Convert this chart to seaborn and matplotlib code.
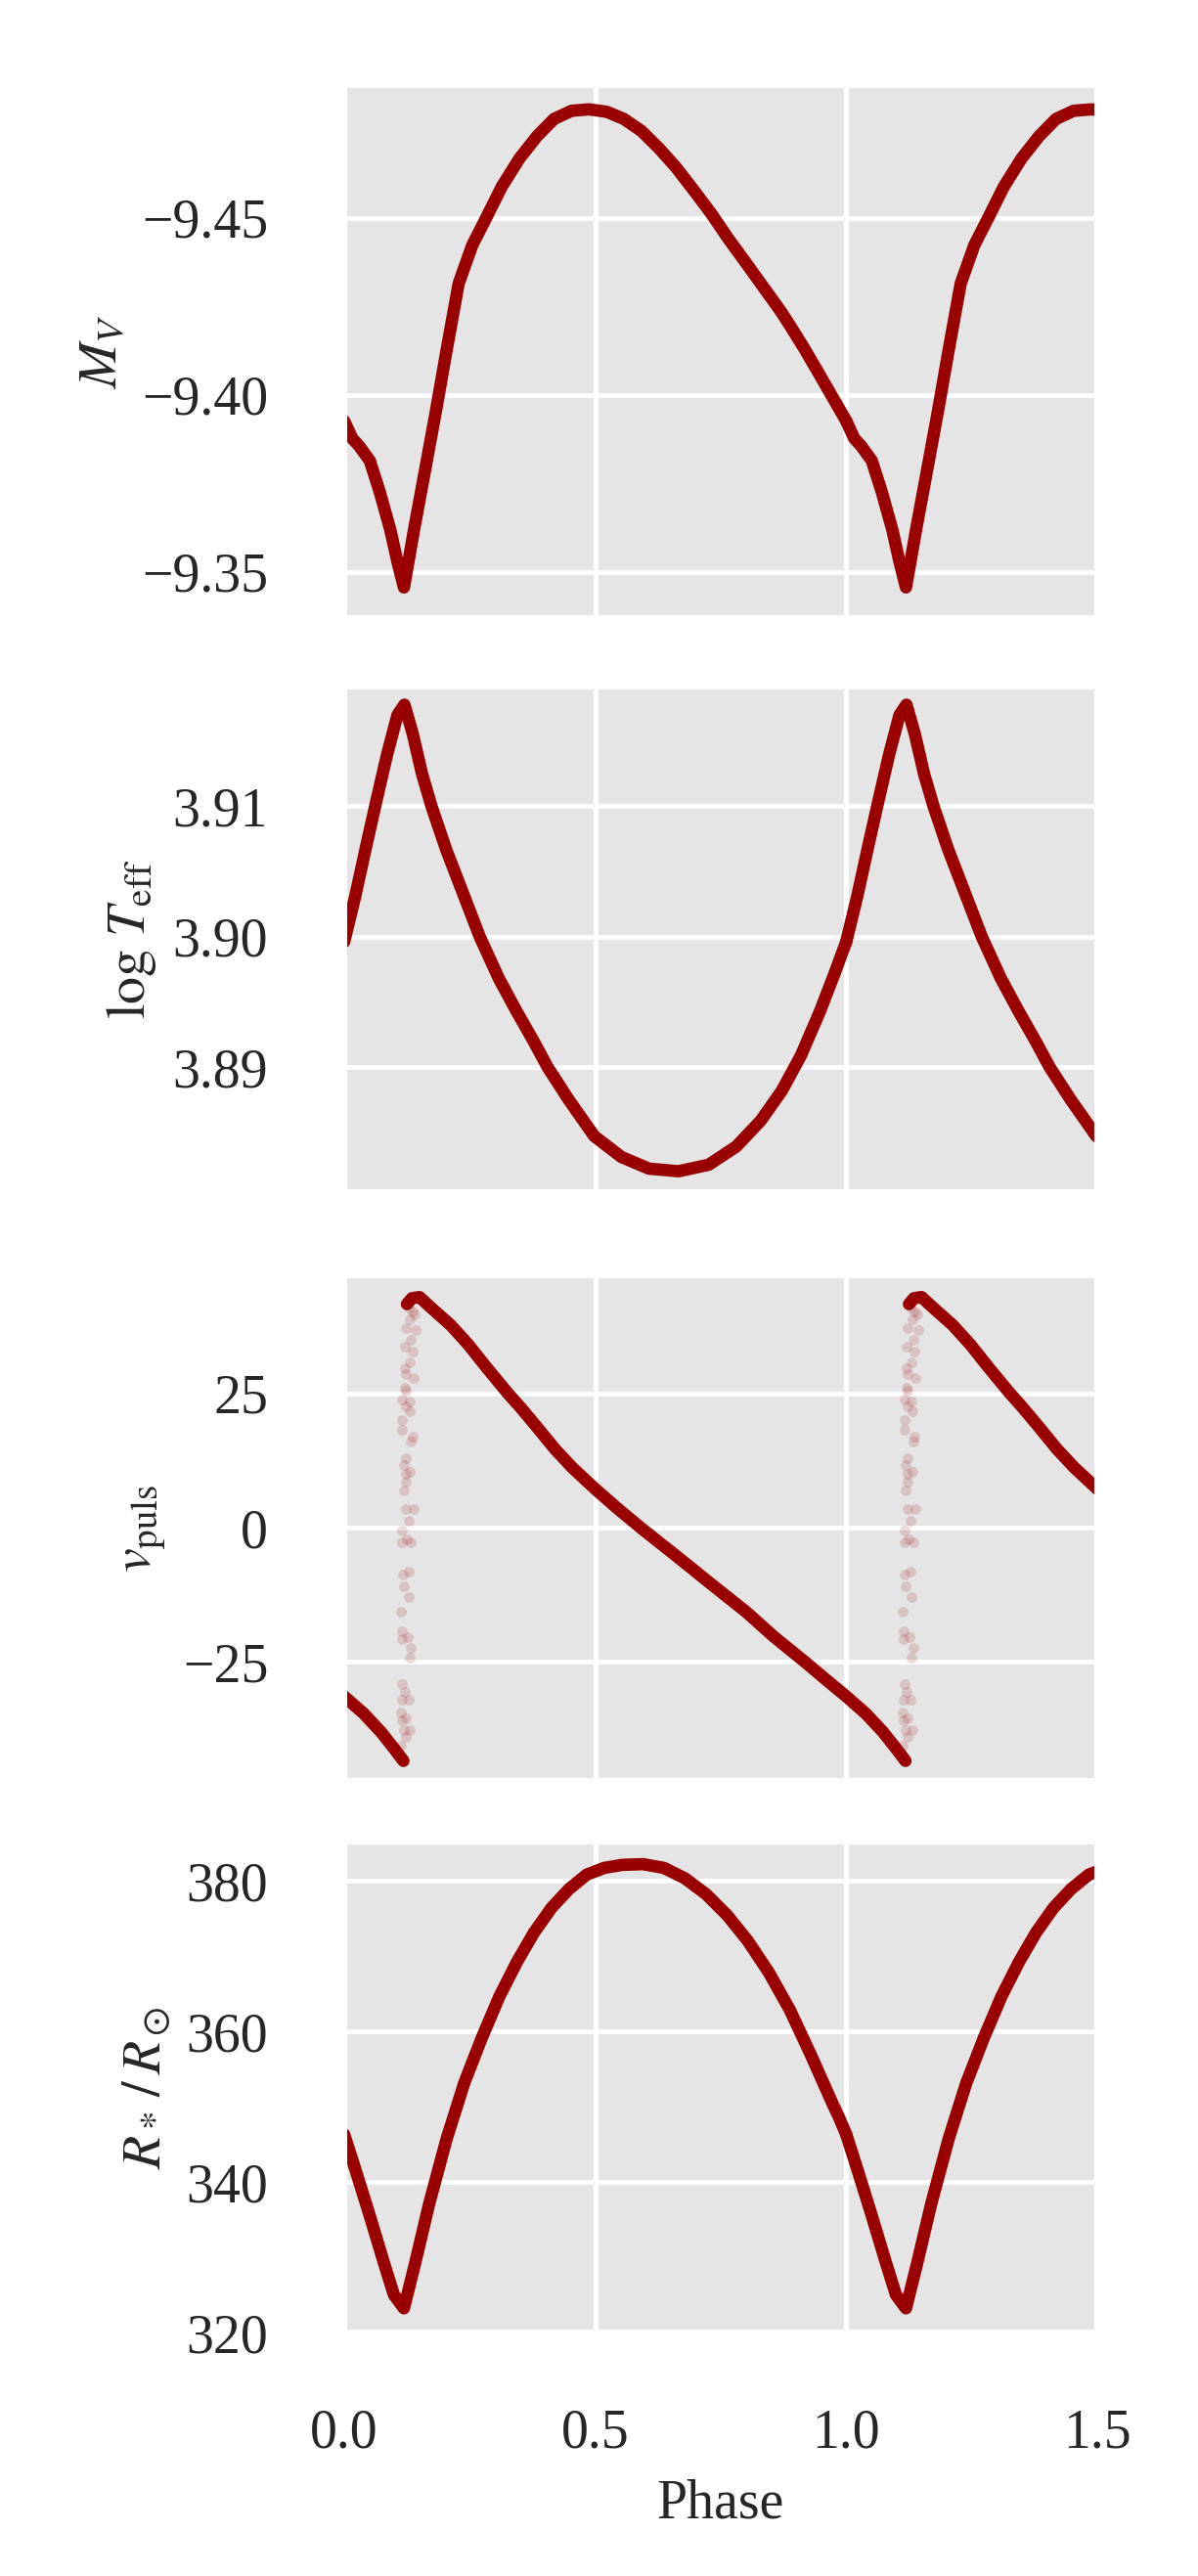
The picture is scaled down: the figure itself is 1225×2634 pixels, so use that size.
"""
Pulsation model: V magnitude, effective temperature, pulsation velocity
and radius against phase (one cycle, repeated up to phase 1.5).
"""

import numpy as np
import pandas as pd
import matplotlib
matplotlib.use("Agg")
import matplotlib.pyplot as plt
import seaborn as sns


# --- one cycle of each quantity ---
mv_phase = [0.000, 0.016, 0.030, 0.051, 0.071, 0.092, 0.106, 0.119, 0.139, 0.162,
            0.183, 0.203, 0.228, 0.255, 0.283, 0.314, 0.349, 0.384, 0.418, 0.453,
            0.488, 0.523, 0.557, 0.592, 0.627, 0.661, 0.696, 0.731, 0.765, 0.800,
            0.835, 0.870, 0.890, 0.918, 0.946, 0.974, 1.000]
mv_mag = [-9.3926, -9.3877, -9.3855, -9.3814, -9.3725, -9.3618, -9.3529, -9.3456, -9.3618, -9.3794,
          -9.3956, -9.4118, -9.4314, -9.4422, -9.4500, -9.4588, -9.4667, -9.4730, -9.4779, -9.4802,
          -9.4806, -9.4799, -9.4779, -9.4745, -9.4696, -9.4642, -9.4578, -9.4512, -9.4441, -9.4373,
          -9.4304, -9.4235, -9.4191, -9.4127, -9.4059, -9.3990, -9.3926]

teff_phase = [0.000, 0.022, 0.043, 0.064, 0.085, 0.106, 0.120, 0.137, 0.155, 0.174,
              0.203, 0.238, 0.270, 0.308, 0.343, 0.377, 0.405, 0.447, 0.498, 0.552,
              0.607, 0.666, 0.726, 0.781, 0.830, 0.872, 0.910, 0.948, 0.976, 1.000]
log_teff = [3.8996, 3.9031, 3.9068, 3.9104, 3.9139, 3.9170, 3.9178, 3.9155, 3.9125, 3.9100,
            3.9067, 3.9032, 3.9000, 3.8968, 3.8943, 3.8920, 3.8900, 3.8875, 3.8847, 3.8831,
            3.8822, 3.8820, 3.8825, 3.8839, 3.8859, 3.8882, 3.8909, 3.8943, 3.8971, 3.8996]

# slow branch of the velocity curve, from maximum to the next minimum
vel_phase = [0.125, 0.135, 0.150, 0.177, 0.212, 0.247, 0.281, 0.326, 0.350, 0.385,
             0.420, 0.454, 0.500, 0.544, 0.593, 0.662, 0.731, 0.801, 0.856, 0.918,
             0.960, 1.000, 1.039, 1.073, 1.101, 1.118]
v_puls = [41.6, 42.7, 42.9, 40.6, 37.7, 34.1, 30.1, 25.0, 22.5, 18.6,
          14.6, 11.2, 7.2, 3.6, -0.2, -5.3, -10.5, -15.7, -20.3, -25.0,
          -28.3, -31.4, -34.6, -38.0, -41.3, -43.4]

# sparse samples during the fast rise (shock)
jump_phase = [0.113, 0.123, 0.118, 0.131, 0.115, 0.123, 0.113, 0.128, 0.115, 0.121,
              0.116, 0.130, 0.133, 0.126, 0.115, 0.115, 0.113, 0.129, 0.118, 0.117,
              0.128, 0.133, 0.116, 0.125, 0.116, 0.128, 0.123, 0.138, 0.118, 0.123,
              0.123, 0.131, 0.118, 0.123, 0.133, 0.136, 0.116, 0.116, 0.131, 0.123,
              0.130, 0.116, 0.123, 0.121, 0.138, 0.123, 0.120, 0.130, 0.121, 0.136,
              0.133, 0.123, 0.143, 0.131, 0.136, 0.141, 0.128]
jump_v = [-40.6, -39.0, -37.7, -37.7, -35.8, -35.5, -34.3, -32.1, -32.1, -30.5,
          -29.2, -24.2, -22.3, -20.4, -20.8, -19.2, -15.7, -12.9, -11.0, -8.8,
          -8.2, -2.8, -2.8, -2.2, -0.6, 1.3, 3.5, 3.5, 6.9, 8.5,
          10.1, 10.4, 11.6, 12.9, 16.0, 17.0, 18.2, 20.1, 21.6, 22.5,
          23.4, 23.9, 25.5, 26.1, 27.8, 28.6, 29.6, 30.8, 33.6, 32.8,
          34.9, 37.1, 36.8, 38.7, 40.3, 39.6, 40.9]

radius_phase = [0.000, 0.022, 0.050, 0.078, 0.099, 0.119, 0.141, 0.169, 0.204, 0.239,
                0.274, 0.309, 0.344, 0.378, 0.413, 0.448, 0.483, 0.518, 0.553, 0.595,
                0.637, 0.679, 0.721, 0.763, 0.804, 0.846, 0.888, 0.930, 0.972, 0.986,
                1.000]
radius = [346.3, 341.7, 335.7, 329.5, 325.0, 323.2, 329.1, 337.0, 345.7, 353.1,
          359.1, 364.6, 369.2, 373.1, 376.4, 378.9, 380.8, 381.7, 382.1, 382.2,
          381.7, 380.3, 378.2, 375.4, 372.0, 367.8, 362.8, 356.8, 350.5, 348.5,
          346.3]


def fold(phase, values, shifts):
    """Repeat one cycle at the given phase offsets."""
    frames = [pd.DataFrame({'phase': np.asarray(phase) + s, 'value': values, 'cycle': i})
              for i, s in enumerate(shifts)]
    return pd.concat(frames, ignore_index=True)


sns.set_theme(style="darkgrid", rc={
    'axes.facecolor': '#E5E5E5',
    'grid.color': 'white',
    'grid.linewidth': 1.0,
    'xtick.major.size': 0,
    'ytick.major.size': 0,
    'xtick.major.pad': 16,
    'ytick.major.pad': 16,
    'xtick.labelsize': 11.5,
    'ytick.labelsize': 11.5,
    'axes.labelsize': 11.5,
})
plt.rcParams['font.family'] = ['Liberation Serif', 'DejaVu Serif']
plt.rcParams['mathtext.fontset'] = 'stix'

color = '#990000'
line_kw = dict(color=color, lw=2.6, estimator=None, units='cycle', sort=False,
               legend=False, solid_capstyle='round')

fig, axes = plt.subplots(4, 1, sharex=True, figsize=(3.5, 7.526))

panels = [
    (fold(mv_phase, mv_mag, (0, 1)), r'$M_V$', (-9.337, -9.4875), [-9.45, -9.40, -9.35]),
    (fold(teff_phase, log_teff, (0, 1)), r'$\log\, T_{\rm eff}$', (3.8804, 3.9192), [3.89, 3.90, 3.91]),
    (fold(vel_phase, v_puls, (-1, 0, 1)), r'$v_{\rm puls}$', (-47.1, 47.0), [-25, 0, 25]),
    (fold(radius_phase, radius, (0, 1)), r'$R_* \,/\, R_\odot$', (319.98, 385.2), [320, 340, 360, 380]),
]

for ax, (df, label, ylim, ticks) in zip(axes, panels):
    sns.lineplot(data=df, x='phase', y='value', ax=ax, **line_kw)
    ax.set_yticks(ticks)
    ax.set_ylim(*ylim)
    ax.ticklabel_format(axis='y', useOffset=False)
    ax.set_ylabel(label, labelpad=3)
    ax.set_xlabel('')

# transparent samples across the velocity jump
jumps = fold(jump_phase, jump_v, (0, 1))
sns.scatterplot(data=jumps, x='phase', y='value', ax=axes[2], color=color,
                s=5, alpha=0.15, linewidth=0, legend=False)
axes[2].set_xlabel('')
axes[2].set_ylabel(r'$v_{\rm puls}$', labelpad=3)

axes[-1].set_xlim(0, 1.5)
axes[-1].set_xticks([0.0, 0.5, 1.0, 1.5])
axes[-1].set_xlabel('Phase')

# panel placement
left, width = 0.2873, 0.6286
axes[0].set_position([left, 0.7601, width, 0.2069])
axes[1].set_position([left, 0.5372, width, 0.1963])
axes[2].set_position([left, 0.3087, width, 0.1963])
axes[3].set_position([left, 0.0945, width, 0.1906])

fig.savefig('out.png', dpi=350)
